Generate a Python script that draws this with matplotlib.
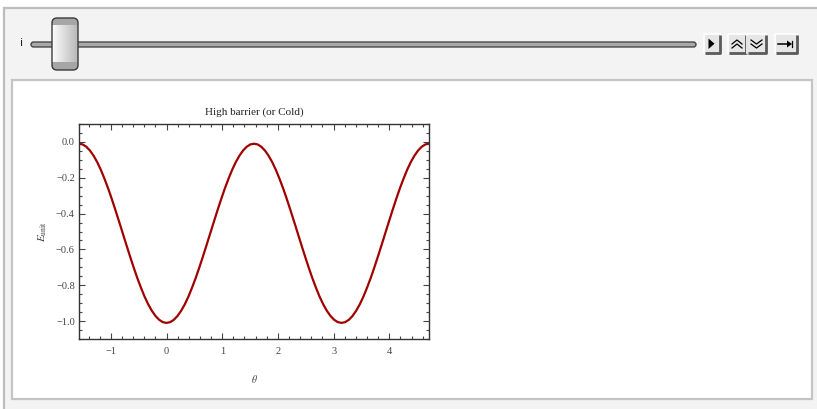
import matplotlib
matplotlib.use("Agg")
import matplotlib.pyplot as plt
import numpy as np
from matplotlib.patches import FancyBboxPatch, Rectangle, Polygon
from matplotlib.ticker import MultipleLocator

plt.rcParams["font.family"] = ["Liberation Serif", "DejaVu Serif"]
plt.rcParams["mathtext.fontset"] = "stix"

# values, theta from -pi/2 to 3pi/2 in steps of pi/48
energy = [
    -0.010, -0.014, -0.027, -0.048, -0.077, -0.113, -0.156, -0.206, -0.260, -0.319,
    -0.381, -0.445, -0.510, -0.575, -0.639, -0.701, -0.760, -0.814, -0.864, -0.907,
    -0.943, -0.972, -0.993, -1.006, -1.010, -1.006, -0.993, -0.972, -0.943, -0.907,
    -0.864, -0.814, -0.760, -0.701, -0.639, -0.575, -0.510, -0.445, -0.381, -0.319,
    -0.260, -0.206, -0.156, -0.113, -0.077, -0.048, -0.027, -0.014, -0.010, -0.014,
    -0.027, -0.048, -0.077, -0.113, -0.156, -0.206, -0.260, -0.319, -0.381, -0.445,
    -0.510, -0.575, -0.639, -0.701, -0.760, -0.814, -0.864, -0.907, -0.943, -0.972,
    -0.993, -1.006, -1.010, -1.006, -0.993, -0.972, -0.943, -0.907, -0.864, -0.814,
    -0.760, -0.701, -0.639, -0.575, -0.510, -0.445, -0.381, -0.319, -0.260, -0.206,
    -0.156, -0.113, -0.077, -0.048, -0.027, -0.014, -0.010,
]
theta = np.linspace(-np.pi / 2, 3 * np.pi / 2, len(energy))
x_ticks = [-1, 0, 1, 2, 3, 4]
y_ticks = [0.0, -0.2, -0.4, -0.6, -0.8, -1.0]
title = "High barrier (or Cold)"

W, H = 817, 409
fig = plt.figure(figsize=(W / 100, H / 100), dpi=100)
fig.patch.set_facecolor("white")

# panel drawn in pixel coordinates
bg = fig.add_axes([0, 0, 1, 1])
bg.set_xlim(0, W)
bg.set_ylim(H, 0)
bg.axis("off")

bg.add_patch(Rectangle((4, 8), W, H, facecolor="#f3f3f3", edgecolor="#bdbdbd", lw=1.6))
bg.add_patch(Rectangle((12.5, 80), 800, 319, facecolor="white", edgecolor="#c4c4c4", lw=1.6))

# slider
bg.text(22, 43, "i", fontsize=8, family="DejaVu Sans", ha="center", va="center", color="#222222")
bg.add_patch(FancyBboxPatch((31, 42), 665, 5, boxstyle="round,pad=0,rounding_size=2.5",
                            facecolor="#a8a8a8", edgecolor="#3a3a3a", lw=0.9))
thumb = FancyBboxPatch((52, 18), 26, 52, boxstyle="round,pad=0,rounding_size=5",
                       facecolor="none", edgecolor="#3a3a3a", lw=1.0, zorder=5)
bg.add_patch(thumb)
grad = np.linspace(0.99, 0.72, 64)[None, :]
img = bg.imshow(grad, cmap="gray", vmin=0, vmax=1, extent=(52, 78, 70, 18),
                aspect="auto", zorder=3, interpolation="bilinear")
img.set_clip_path(thumb)
for y0, h in ((18, 7), (62, 8)):
    cap = Rectangle((52, y0), 26, h, facecolor="#a6a6a6", edgecolor="none", zorder=4)
    bg.add_patch(cap)
    cap.set_clip_path(thumb)
bg.set_xlim(0, W)
bg.set_ylim(H, 0)


def button(x0, x1, y0=34, y1=53):
    bg.add_patch(Rectangle((x0, y0), x1 - x0, y1 - y0, facecolor="#e6e6e6", edgecolor="none"))
    bg.plot([x0, x0, x1], [y1, y0, y0], color="white", lw=1.2)
    bg.plot([x0 + 1, x1, x1], [y1, y1, y0 + 1], color="#5a5a5a", lw=2.0, solid_capstyle="butt")


button(704, 720)
bg.add_patch(Polygon([[708.5, 38.5], [708.5, 49], [714.5, 43.7]], closed=True, facecolor="black"))
button(728, 746)
for dy in (0, 4):
    bg.plot([732, 737, 742], [44 + dy, 40 + dy, 44 + dy], color="black", lw=0.9)
button(747, 766)
for dy in (0, 4):
    bg.plot([751, 756.5, 762], [40 + dy, 44 + dy, 40 + dy], color="black", lw=0.9)
button(775, 797)
bg.plot([778, 790], [44, 44], color="black", lw=1.1)
bg.add_patch(Polygon([[787, 40.5], [787, 47.5], [792, 44]], closed=True, facecolor="black"))
bg.plot([792.5, 792.5], [41, 47], color="black", lw=0.9)

# the plot itself
ax = fig.add_axes([79 / W, (H - 339) / H, 350 / W, 215 / H])
ax.plot(theta, energy, color="#a00000", lw=1.6)
ax.set_xlim(-np.pi / 2, 3 * np.pi / 2)
ax.set_ylim(-1.1, 0.1)
ax.set_xticks(x_ticks)
ax.set_xticklabels(["\u22121" if t == -1 else str(t) for t in x_ticks])
ax.set_yticks(y_ticks)
ax.set_yticklabels([f"{t:.1f}".replace("-", "\u2212") for t in y_ticks])
ax.xaxis.set_minor_locator(MultipleLocator(0.2))
ax.yaxis.set_minor_locator(MultipleLocator(0.05))
ax.tick_params(which="both", direction="in", top=True, right=True, colors="#444444",
               labelsize=7.5, labelcolor="#444444", width=0.8)
ax.tick_params(axis="y", pad=3)
ax.tick_params(axis="x", pad=6)
ax.tick_params(which="major", length=4)
ax.tick_params(which="minor", length=2)
for s in ax.spines.values():
    s.set_color("#333333")
    s.set_linewidth(1.0)
ax.set_title(title, fontsize=8, color="#222222", pad=7)
ax.set_xlabel(r"$\theta$", fontsize=7, color="#444444", labelpad=12)
ax.set_ylabel(r"$E_{\mathrm{unit}}$", fontsize=8, color="#444444", labelpad=5)

fig.savefig("out.png", dpi=100)
